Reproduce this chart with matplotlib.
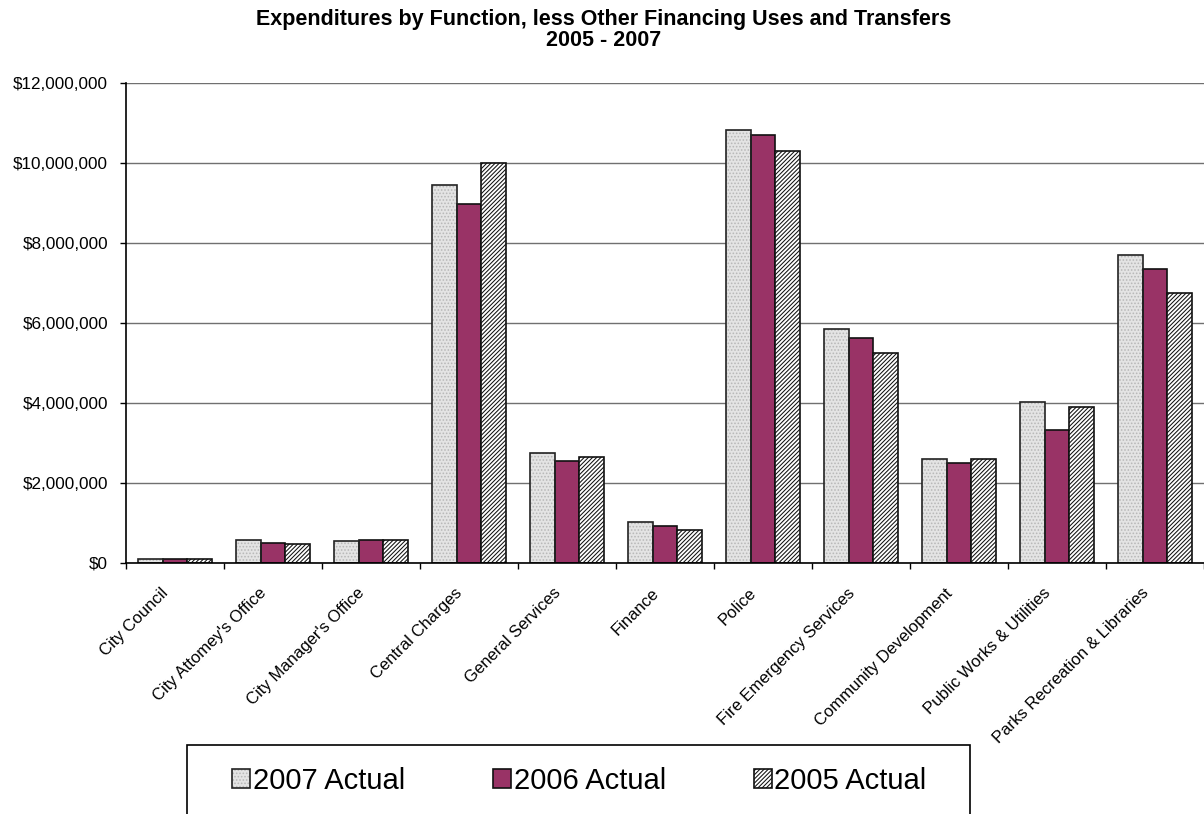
import numpy as np
import matplotlib
matplotlib.use("Agg")
import matplotlib.pyplot as plt
from matplotlib.patches import Rectangle
from matplotlib.ticker import FuncFormatter, FixedLocator
from matplotlib.legend_handler import HandlerTuple
from matplotlib.transforms import ScaledTranslation

plt.rcParams['font.family'] = ['Liberation Sans', 'DejaVu Sans']
plt.rcParams['hatch.linewidth'] = 0.75

functions = ['City Council', "City Attorney's Office", "City Manager's Office",
             'Central Charges', 'General Services', 'Finance', 'Police',
             'Fire Emergency Services', 'Community Development',
             'Public Works & Utilities', 'Parks Recreation & Libraries']
tick_labels = ['City Council', "City Attomey's Office", "City Manager's Office",
               'Central Charges', 'General Services', 'Finance', 'Police',
               'Fire Emergency Services', 'Community Development',
               'Public Works & Utilities', 'Parks Recreation & Libraries']

actual_2007 = [100000, 580000, 540000, 9450000, 2750000, 1020000,
               10830000, 5840000, 2610000, 4030000, 7710000]
actual_2006 = [100000, 510000, 570000, 8975000, 2550000, 920000,
               10710000, 5630000, 2510000, 3330000, 7340000]
actual_2005 = [100000, 470000, 570000, 9990000, 2650000, 820000,
               10290000, 5260000, 2610000, 3910000, 6760000]

W, H = 1204, 814
fig = plt.figure(figsize=(W / 100, H / 100), dpi=100)
ax = fig.add_axes([126 / W, 251 / H, 1078 / W, 480 / H])

x = np.arange(len(functions)) + 0.5
bw = 0.25

# 2007: light grey with fine dots, outlined separately so the dots stay grey
b07_fill = ax.bar(x - bw, actual_2007, bw, color='#e4e4e4', hatch='.....',
                  edgecolor='#b8b8b8', linewidth=0, zorder=3)
b07_edge = ax.bar(x - bw, actual_2007, bw, fill=False, edgecolor='#222222',
                  linewidth=1.2, zorder=4)
b06 = ax.bar(x, actual_2006, bw, color='#993366', edgecolor='#111111',
             linewidth=1.2, zorder=3)
b05 = ax.bar(x + bw, actual_2005, bw, color='white', hatch='////////',
             edgecolor='#111111', linewidth=1.2, zorder=3)

ax.set_xlim(0, len(functions))
ax.set_ylim(0, 12000000)
ax.set_yticks(np.arange(0, 12000001, 2000000))
ax.yaxis.set_major_formatter(FuncFormatter(lambda v, p: '${:,.0f}'.format(v)))
ax.grid(axis='y', color='#707070', linewidth=1, zorder=0)

# category boundaries get tick marks, centres carry the labels
ax.xaxis.set_major_locator(FixedLocator(np.arange(len(functions) + 1)))
ax.xaxis.set_minor_locator(FixedLocator(x))
ax.set_xticklabels([], minor=False)
ax.set_xticklabels(tick_labels, minor=True, rotation=45, ha='right',
                   va='center', rotation_mode='anchor', fontsize=12)
ax.tick_params(axis='x', which='minor', length=0, pad=20)
ax.tick_params(axis='x', which='major', length=4, width=1, direction='out')
ax.tick_params(axis='y', length=4, width=1, direction='out', labelsize=12.3, pad=9)
shift = ScaledTranslation(-9 / 100, 0, fig.dpi_scale_trans)
for lbl in ax.get_xticklabels(minor=True):
    lbl.set_transform(lbl.get_transform() + shift)

for s in ['top', 'right']:
    ax.spines[s].set_visible(False)
for s in ['left', 'bottom']:
    ax.spines[s].set_linewidth(1.2)
    ax.spines[s].set_zorder(5)

fig.text(0.5015, 1 - 20 / H, 'Expenditures by Function, less Other Financing Uses and Transfers',
         ha='center', va='center', fontsize=15.5, fontweight='bold')
fig.text(0.5015, 1 - 41 / H, '2005 - 2007', ha='center', va='center',
         fontsize=15.5, fontweight='bold')

# legend box runs off the bottom of the figure
fig.patches.append(Rectangle((187 / W, -0.02), (970 - 187) / W, 1 - 745 / H + 0.02,
                             transform=fig.transFigure, fill=False,
                             edgecolor='black', linewidth=1.2))
fig.legend([(b07_fill[0], b07_edge[0]), b06[0], b05[0]],
           ['2007 Actual', '2006 Actual', '2005 Actual'],
           handler_map={tuple: HandlerTuple(ndivide=1)},
           loc='center left', bbox_to_anchor=(232 / W, 1 - 781 / H),
           ncol=3, frameon=False, fontsize=21, borderpad=0, borderaxespad=0,
           handlelength=0.62, handleheight=0.62, handletextpad=0.1,
           columnspacing=3.0)

fig.savefig('out.png', dpi=100)
